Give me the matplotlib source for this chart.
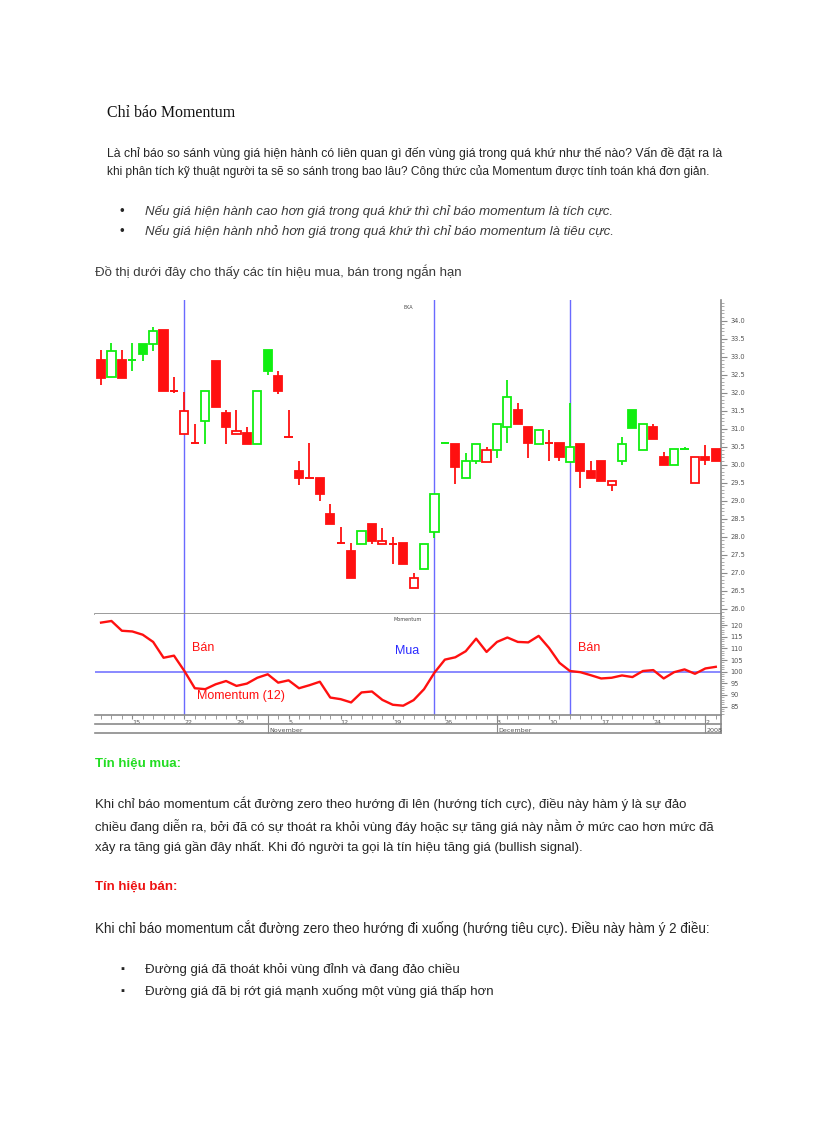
import matplotlib.pyplot as plt
import numpy as np

# ---- data ----
opens = [32.90, 32.42, 32.90, 32.88, 33.35, 33.34, 33.74, 32.06, 30.85, 30.62,
         31.22, 32.88, 31.42, 30.85, 30.87, 30.56, 33.18, 32.46, 30.78, 29.83,
         29.64, 29.64, 28.63, 27.82, 27.60, 27.79, 28.35, 27.79, 27.81, 27.81,
         26.56, 27.11, 28.13, 30.60, 30.57, 29.63, 30.10, 30.08, 30.40, 31.03,
         31.51, 31.05, 30.57, 30.62, 30.59, 30.08, 30.57, 29.83, 30.11, 29.44,
         30.10, 31.51, 30.40, 31.03, 30.22, 30.00, 30.42, 29.50, 30.22, 30.42]
closes = [32.41, 33.15, 32.41, 32.90, 33.07, 33.71, 32.05, 32.03, 31.49, 30.60,
          32.05, 31.59, 31.05, 30.94, 30.57, 32.05, 32.61, 32.05, 30.76, 29.64,
          29.62, 29.18, 28.35, 27.80, 26.86, 28.16, 27.89, 27.88, 27.80, 27.25,
          26.86, 27.79, 29.17, 30.61, 29.92, 30.10, 30.57, 30.40, 31.14, 31.87,
          31.14, 30.59, 30.96, 30.60, 30.22, 30.49, 29.83, 29.64, 29.55, 29.53,
          30.57, 31.02, 31.14, 30.70, 30.00, 30.42, 30.44, 30.22, 30.13, 30.11]
highs = [33.18, 33.37, 33.18, 33.37, 33.35, 33.83, 33.74, 32.44, 32.02, 31.14,
         32.05, 32.88, 31.51, 31.51, 31.03, 32.05, 33.18, 32.61, 31.51, 30.11,
         30.59, 29.64, 28.90, 28.27, 27.81, 28.16, 28.35, 28.25, 27.98, 27.81,
         26.98, 27.79, 29.17, 30.62, 30.57, 30.31, 30.57, 30.49, 31.14, 32.35,
         31.72, 31.05, 30.96, 30.96, 30.59, 31.70, 30.57, 30.11, 30.11, 29.53,
         30.77, 31.51, 31.14, 31.14, 30.36, 30.42, 30.49, 30.22, 30.54, 30.42]
lows = [32.21, 32.42, 32.41, 32.60, 32.88, 33.15, 32.05, 31.98, 30.85, 30.59,
        30.56, 31.59, 30.56, 30.85, 30.57, 30.56, 32.49, 31.95, 30.75, 29.43,
        29.62, 28.99, 28.35, 27.80, 26.86, 27.79, 27.79, 27.79, 27.24, 27.25,
        26.56, 27.11, 27.97, 30.59, 29.46, 29.63, 30.01, 30.08, 30.17, 30.59,
        31.14, 30.17, 30.57, 30.10, 30.10, 30.08, 29.34, 29.64, 29.55, 29.26,
        30.00, 31.02, 30.40, 30.70, 30.00, 30.00, 30.42, 29.50, 30.00, 30.11]
close_before = 32.80

momentum = [121.1, 121.8, 117.6, 117.3, 115.9, 112.8, 106.0, 106.9, 100.3, 92.9,
            92.5, 94.6, 96.0, 93.9, 94.9, 97.4, 98.9, 95.3, 96.3, 92.9,
            94.2, 95.7, 88.9, 88.2, 86.8, 91.1, 91.5, 87.9, 85.8, 85.4,
            87.8, 92.5, 99.6, 105.2, 106.2, 108.8, 114.2, 108.5, 112.8, 114.7,
            112.8, 112.6, 115.4, 110.2, 103.8, 100.3, 99.8, 98.5, 97.1, 97.4,
            98.4, 97.7, 100.3, 100.7, 97.1, 99.8, 101.0, 99.1, 101.4, 102.1]

signal_idx = [8, 32, 45]
day_pos = [3, 8, 13, 18, 23, 28, 33, 38, 43, 48, 53, 58]
day_labels = ['15', '22', '29', '5', '12', '19', '26', '3', '10', '17', '24', '2']
month_pos = [16, 38, 58]
month_labels = ['November', 'December', '2008']

W, H = 816, 1123
fig = plt.figure(figsize=(W / 100, H / 100), dpi=100)
fig.patch.set_facecolor('white')

SANS = ['Liberation Sans', 'DejaVu Sans']
TXT = '#262626'


def put(x, y, s, **kw):
    kw.setdefault('family', SANS)
    kw.setdefault('color', TXT)
    kw.setdefault('fontsize', 9.5)
    fig.text(x / W, 1 - y / H, s, va='center', ha='left', **kw)


def axes_px(x0, y0, x1, y1):
    return fig.add_axes([x0 / W, 1 - y1 / H, (x1 - x0) / W, (y1 - y0) / H])


# ---- page text ----
put(107, 113, 'Chỉ báo Momentum', family=['Liberation Serif', 'DejaVu Serif'],
    fontsize=11.4, color='#111111')
put(107, 153, 'Là chỉ báo so sánh vùng giá hiện hành có liên quan gì đến vùng giá '
    'trong quá khứ như thế nào? Vấn đề đặt ra là', fontsize=8.8)
put(107, 172, 'khi phân tích kỹ thuật người ta sẽ so sánh trong bao lâu? Công thức '
    'của Momentum được tính toán khá đơn giản.', fontsize=8.55)
put(120, 212, '•')
put(145, 212, 'Nếu giá hiện hành cao hơn giá trong quá khứ thì chỉ báo momentum là tích cực.',
    style='italic', color='#3a3a3a')
put(120, 232, '•')
put(145, 232, 'Nếu giá hiện hành nhỏ hơn giá trong quá khứ thì chỉ báo momentum là tiêu cực.',
    style='italic', color='#3a3a3a')
put(95, 272, 'Đồ thị dưới đây cho thấy các tín hiệu mua, bán trong ngắn hạn', color='#3a3a3a')

put(95, 764, 'Tín hiệu mua:', weight='bold', color='#22dd22')
put(95, 804, 'Khi chỉ báo momentum cắt đường zero theo hướng đi lên (hướng tích cực), '
    'điều này hàm ý là sự đảo', fontsize=9.45)
put(95, 826, 'chiều đang diễn ra, bởi đã có sự thoát ra khỏi vùng đáy hoặc sự tăng giá '
    'này nằm ở mức cao hơn mức đã', fontsize=9.45)
put(95, 848, 'xảy ra tăng giá gần đây nhất. Khi đó người ta gọi là tín hiệu tăng giá '
    '(bullish signal).', fontsize=9.45)
put(95, 887, 'Tín hiệu bán:', weight='bold', color='#ee1111')
put(95, 928, 'Khi chỉ báo momentum cắt đường zero theo hướng đi xuống (hướng tiêu cực). '
    'Điều này hàm ý 2 điều:', fontsize=9.75)
put(120, 969, '▪', fontsize=8)
put(145, 969, 'Đường giá đã thoát khỏi vùng đỉnh và đang đảo chiều')
put(120, 991, '▪', fontsize=8)
put(145, 991, 'Đường giá đã bị rớt giá mạnh xuống một vùng giá thấp hơn')

# ---- chart ----
RED, GREEN, BLUE, GRAY = '#ff1010', '#10ee10', '#6a6aff', '#8a8a8a'
o = np.array(opens)
c = np.array(closes)
hi = np.array(highs)
lo = np.array(lows)
idx = np.arange(len(c))
prev = np.r_[close_before, c[:-1]]
cols = np.where(c >= prev, GREEN, RED)

ax = axes_px(95, 300, 721, 614)
ax2 = axes_px(95, 614, 721, 715)
for a in (ax, ax2):
    a.set_xlim(-0.58, 59.5)
    a.set_facecolor('white')
    for s in ('left', 'top'):
        a.spines[s].set_visible(False)
    for s in ('right', 'bottom'):
        a.spines[s].set_color(GRAY)
        a.spines[s].set_linewidth(1.2)
    a.yaxis.tick_right()
    a.tick_params(axis='y', which='both', colors=GRAY, labelcolor='#555555',
                  labelsize=4.8, pad=3)
    a.tick_params(axis='y', which='major', length=4, width=0.8)
    a.tick_params(axis='y', which='minor', length=2, width=0.5)
    for x in signal_idx:
        a.axvline(x, color=BLUE, lw=1, zorder=1)

ax.set_ylim(25.85, 34.57)
ax.set_yticks(np.arange(26, 34.01, 0.5))
ax.set_yticks(np.arange(25.9, 34.55, 0.1), minor=True)
ax.set_yticklabels(['%.1f' % v for v in np.arange(26, 34.01, 0.5)])
ax.set_xticks([])

ax.vlines(idx, lo, hi, colors=cols, lw=1.3, zorder=2)
for i in idx:
    body = abs(c[i] - o[i])
    if body < 0.05:
        ax.hlines((c[i] + o[i]) / 2, i - 0.4, i + 0.4, colors=cols[i], lw=1.4, zorder=3)
    else:
        face = cols[i] if c[i] < o[i] else 'white'
        ax.bar(i, body, bottom=min(c[i], o[i]), width=0.78, color=face,
               edgecolor=cols[i], linewidth=1.3, zorder=3)
ax.text(0.5, 0.985, 'EKA', transform=ax.transAxes, ha='center', va='top',
        fontsize=3.5, color='#444444')

ax2.set_ylim(81.4, 124.8)
ax2.set_yticks(np.arange(85, 121, 5))
ax2.set_yticks(np.arange(82, 125, 1), minor=True)
ax2.axhline(100, color=BLUE, lw=1.1, zorder=1)
ax2.plot(idx, momentum, color=RED, lw=1.7, zorder=3)
ax2.text(0.5, 0.97, 'Momentum', transform=ax2.transAxes, ha='center', va='top',
         fontsize=3.5, color='#444444')
ax2.text(8.7, 110.3, 'Bán', color=RED, fontsize=9, family=SANS, va='center')
ax2.text(45.8, 110.3, 'Bán', color=RED, fontsize=9, family=SANS, va='center')
ax2.text(28.2, 109.1, 'Mua', color='#2a2aff', fontsize=9, family=SANS, va='center')
ax2.text(9.2, 89.5, 'Momentum (12)', color=RED, fontsize=9, family=SANS, va='center')

ax2.set_xticks(idx, minor=True)
ax2.set_xticks(day_pos)
ax2.set_xticklabels(day_labels, fontsize=4.6, color='#555555', ha='left')
ax2.tick_params(axis='x', which='both', colors=GRAY, labelcolor='#555555', pad=0.5)
ax2.tick_params(axis='x', which='major', length=3, width=0.8)
ax2.tick_params(axis='x', which='minor', length=3, width=0.6)
tr = ax2.get_xaxis_transform()
for yy in (-0.09, -0.178):
    ax2.plot([-0.58, 59.5], [yy, yy], transform=tr, color=GRAY, lw=1.2, clip_on=False)
ax2.vlines(month_pos, -0.178, 0, transform=tr, colors=GRAY, lw=0.8, clip_on=False)
ax2.plot([59.5, 59.5], [-0.178, 0], transform=tr, color=GRAY, lw=1.2, clip_on=False)
for x, s in zip(month_pos, month_labels):
    ax2.text(x + 0.15, -0.152, s, transform=tr, ha='left', va='center',
             fontsize=4.6, color='#555555')

fig.savefig('out.png', dpi=100)
